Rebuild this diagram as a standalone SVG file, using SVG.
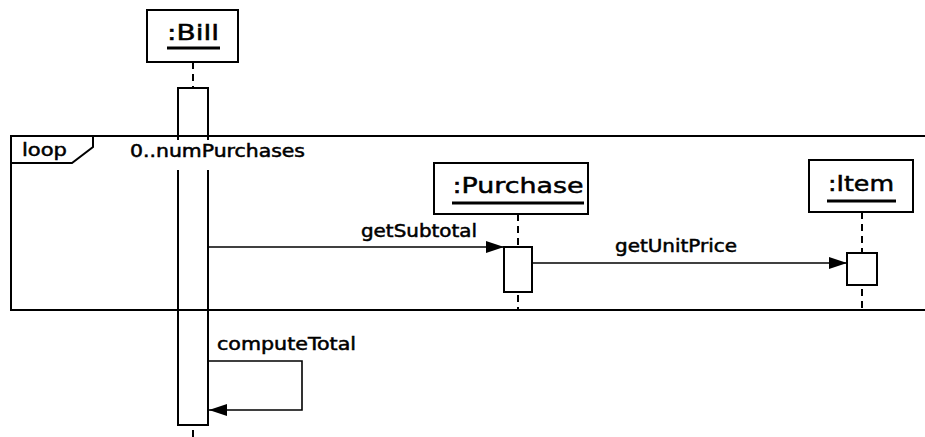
<svg xmlns="http://www.w3.org/2000/svg" width="925" height="437" viewBox="0 0 925 437">
<style>
.box{fill:#fff;stroke:#000;stroke-width:2}
.act{fill:#fff;stroke:#000;stroke-width:2}
.life{stroke:#000;stroke-width:2;stroke-dasharray:7 5;fill:none}
.frame{stroke:#000;stroke-width:2;fill:none}
.msg{stroke:#000;stroke-width:1.6;fill:none}
.t{font-family:"DejaVu Sans","Liberation Sans",sans-serif;fill:#000;stroke:#000;stroke-width:0.5}
.ul{stroke:#000;stroke-width:3}
</style>
<defs>
<marker id="ah" viewBox="0 0 18 12" refX="18" refY="6" markerWidth="18" markerHeight="12" markerUnits="userSpaceOnUse" orient="auto">
<path d="M0,0 L18,6 L0,12 Z" fill="#000"/>
</marker>
</defs>
<g id="bill">
<rect class="box" x="147" y="10" width="91" height="52"/>
<text class="t" x="193" y="40" font-size="21" text-anchor="middle" textLength="52" lengthAdjust="spacingAndGlyphs">:Bill</text>
<line class="ul" x1="167" y1="48" x2="220" y2="48"/>
<line class="life" x1="193" y1="62" x2="193" y2="88"/>
<rect class="act" x="178" y="88" width="30" height="337"/>
<line class="life" x1="193" y1="430" x2="193" y2="437"/>
</g>
<g id="loop">
<path class="frame" d="M930,136 L11,136 L11,310 L930,310"/>
<path class="frame" d="M11,163 L72,163 L93,147 L93,136"/>
<text class="t" x="22" y="156" font-size="17" textLength="45" lengthAdjust="spacingAndGlyphs">loop</text>
<rect x="125" y="140" width="185" height="30" fill="#fff"/>
<text class="t" x="130" y="157" font-size="17" textLength="175" lengthAdjust="spacingAndGlyphs">0..numPurchases</text>
</g>
<g id="purchase">
<rect class="box" x="434" y="163" width="154" height="51"/>
<text class="t" x="518" y="193" font-size="22" text-anchor="middle" textLength="131" lengthAdjust="spacingAndGlyphs">:Purchase</text>
<line class="ul" x1="452" y1="203" x2="584" y2="203"/>
<line class="life" x1="518" y1="214" x2="518" y2="247"/>
<rect class="act" x="504" y="247" width="28" height="45"/>
<line class="life" x1="518" y1="295" x2="518" y2="310"/>
</g>
<g id="item">
<rect class="box" x="809" y="160" width="104" height="52"/>
<text class="t" x="861" y="191" font-size="21" text-anchor="middle" textLength="66" lengthAdjust="spacingAndGlyphs">:Item</text>
<line class="ul" x1="827" y1="201" x2="896" y2="201"/>
<line class="life" x1="862" y1="212" x2="862" y2="253"/>
<rect class="act" x="847" y="253" width="30" height="32"/>
<line class="life" x1="862" y1="289" x2="862" y2="310"/>
</g>
<g id="connectors">
<line class="msg" x1="208" y1="247" x2="504" y2="247" marker-end="url(#ah)"/>
<text class="t" x="361" y="237" font-size="17" textLength="116" lengthAdjust="spacingAndGlyphs">getSubtotal</text>
<line class="msg" x1="532" y1="263" x2="847" y2="263" marker-end="url(#ah)"/>
<text class="t" x="615" y="252" font-size="17" textLength="122" lengthAdjust="spacingAndGlyphs">getUnitPrice</text>
<path class="msg" d="M208,361 L302,361 L302,410 L209,410" marker-end="url(#ah)"/>
<text class="t" x="217" y="350" font-size="17" textLength="139" lengthAdjust="spacingAndGlyphs">computeTotal</text>
</g>
</svg>
